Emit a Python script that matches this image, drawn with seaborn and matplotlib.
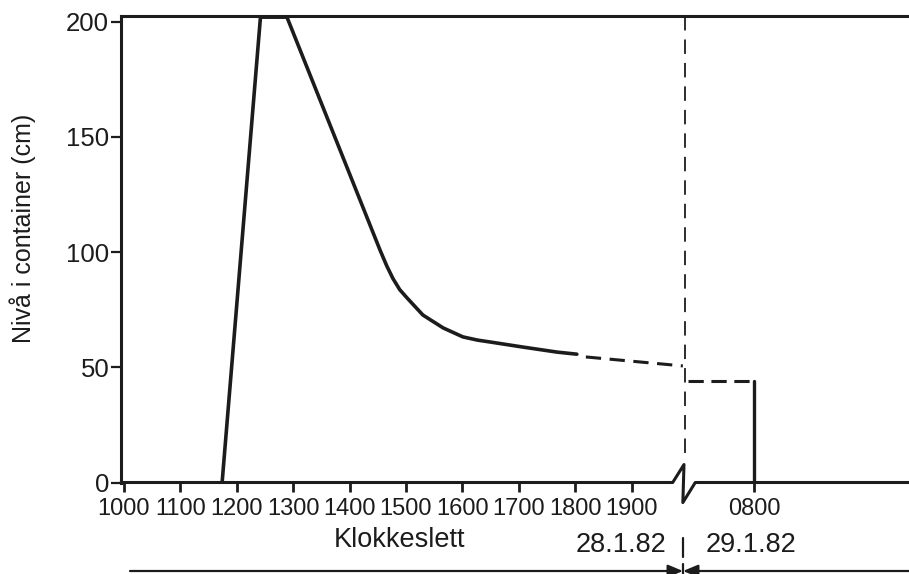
import pandas as pd
import matplotlib.pyplot as plt
import seaborn as sns

sns.set_theme(style="ticks")
plt.rcParams['font.family'] = ['Liberation Sans', 'DejaVu Sans']

INK = "#1c1c1c"

# x is in hours on a broken axis: 10-19 is 28.1.82, after the break 0800 (29.1.82) sits at 21.17
tick_pos = [10, 11, 12, 13, 14, 15, 16, 17, 18, 19, 21.17]
tick_labels = ["1000", "1100", "1200", "1300", "1400", "1500",
               "1600", "1700", "1800", "1900", "0800"]
level_ticks = [0, 50, 100, 150, 200]

# measured level, solid line
solid_pos = [11.74, 12.42, 12.89, 14.54, 14.66, 14.77, 14.89, 15.02,
             15.30, 15.66, 16.01, 16.27, 16.49, 17.07, 17.68, 18.03]
solid_level = [0, 202, 202, 100.9, 94.0, 88.5, 83.7, 80.1,
               72.7, 67.1, 63.2, 61.8, 61.0, 58.8, 56.6, 55.7]

# evening, dashed
evening_pos = [18.19, 19.91]
evening_level = [54.5, 50.6]

# next morning, dashed, then emptied at 0800
morning_pos = [20.0, 21.17]
morning_level = [44, 44]
drain_pos = [21.17, 21.17]
drain_level = [44, 0]

break_pos = 19.95
x_min, x_max = 9.947, 23.92
y_max = 202.5

# baseline with the zig-zag axis break
base_pos = [x_min, 19.73, 19.93, 19.91, 20.13, x_max]
base_level = [0, 0, 7.8, -8.7, 0, 0]

fig = plt.figure(figsize=(9.09, 5.74), dpi=100)
ax = fig.add_axes([121 / 909, 1 - 482.5 / 574, (909 - 121) / 909, (482.5 - 16) / 574])

solid = pd.DataFrame({'pos': solid_pos, 'level': solid_level})
sns.lineplot(data=solid, x='pos', y='level', ax=ax, color=INK, lw=2.6,
             estimator=None, sort=False)
sns.lineplot(x=evening_pos, y=evening_level, ax=ax, color=INK, lw=2.2,
             estimator=None, sort=False).lines[-1].set_dashes((5, 2.8))
sns.lineplot(x=morning_pos, y=morning_level, ax=ax, color=INK, lw=2.2,
             estimator=None, sort=False).lines[-1].set_dashes((5, 2.5))
sns.lineplot(x=drain_pos, y=drain_level, ax=ax, color=INK, lw=2.4,
             estimator=None, sort=False)

# day break
ax.plot([break_pos, break_pos], [y_max, 10], color=INK, lw=1.3, dashes=(8, 5))
ax.plot(base_pos, base_level, color=INK, lw=2.2, clip_on=False)

ax.set_xlim(x_min, x_max)
ax.set_ylim(0, y_max)
ax.set_xticks(tick_pos)
ax.set_xticklabels(tick_labels)
ax.set_yticks(level_ticks)
ax.set_xlabel("")
ax.set_ylabel("")

for side in ['right', 'bottom']:
    ax.spines[side].set_visible(False)
for side in ['top', 'left']:
    ax.spines[side].set_linewidth(2.2)
    ax.spines[side].set_color(INK)

ax.tick_params(axis='x', direction='out', length=6.5, width=2, pad=4.5,
               labelsize=17, colors=INK)
ax.tick_params(axis='y', direction='out', length=7, width=1.6, pad=1.5,
               labelsize=18.5, colors=INK)

fig.text(23 / 909, 1 - 228 / 574, "Nivå i container (cm)", rotation=90,
         ha='center', va='center', fontsize=18, color=INK)
fig.text(400 / 909, 1 - 547 / 574, "Klokkeslett", ha='center', va='baseline',
         fontsize=19.5, color=INK)
fig.text(621 / 909, 1 - 552 / 574, "28.1.82", ha='center', va='baseline',
         fontsize=19.5, color=INK)
fig.text(751 / 909, 1 - 552 / 574, "29.1.82", ha='center', va='baseline',
         fontsize=19.5, color=INK)

# date span arrows at the bottom
arrow = dict(arrowstyle='-|>,head_length=0.6,head_width=0.25', color=INK,
             lw=1.6, shrinkA=0, shrinkB=0, mutation_scale=15)
ax.annotate("", xy=(683, 3), xytext=(130, 3), xycoords='figure pixels',
            textcoords='figure pixels', arrowprops=arrow)
ax.annotate("", xy=(683, 3), xytext=(909, 3), xycoords='figure pixels',
            textcoords='figure pixels', arrowprops=arrow)
tick = dict(arrowstyle='-', color=INK, lw=1.6, shrinkA=0, shrinkB=0)
ax.annotate("", xy=(683, 36), xytext=(683, 17), xycoords='figure pixels',
            textcoords='figure pixels', arrowprops=tick)
ax.annotate("", xy=(683, 10), xytext=(683, 0), xycoords='figure pixels',
            textcoords='figure pixels', arrowprops=tick)

fig.savefig("out.png", dpi=100)
